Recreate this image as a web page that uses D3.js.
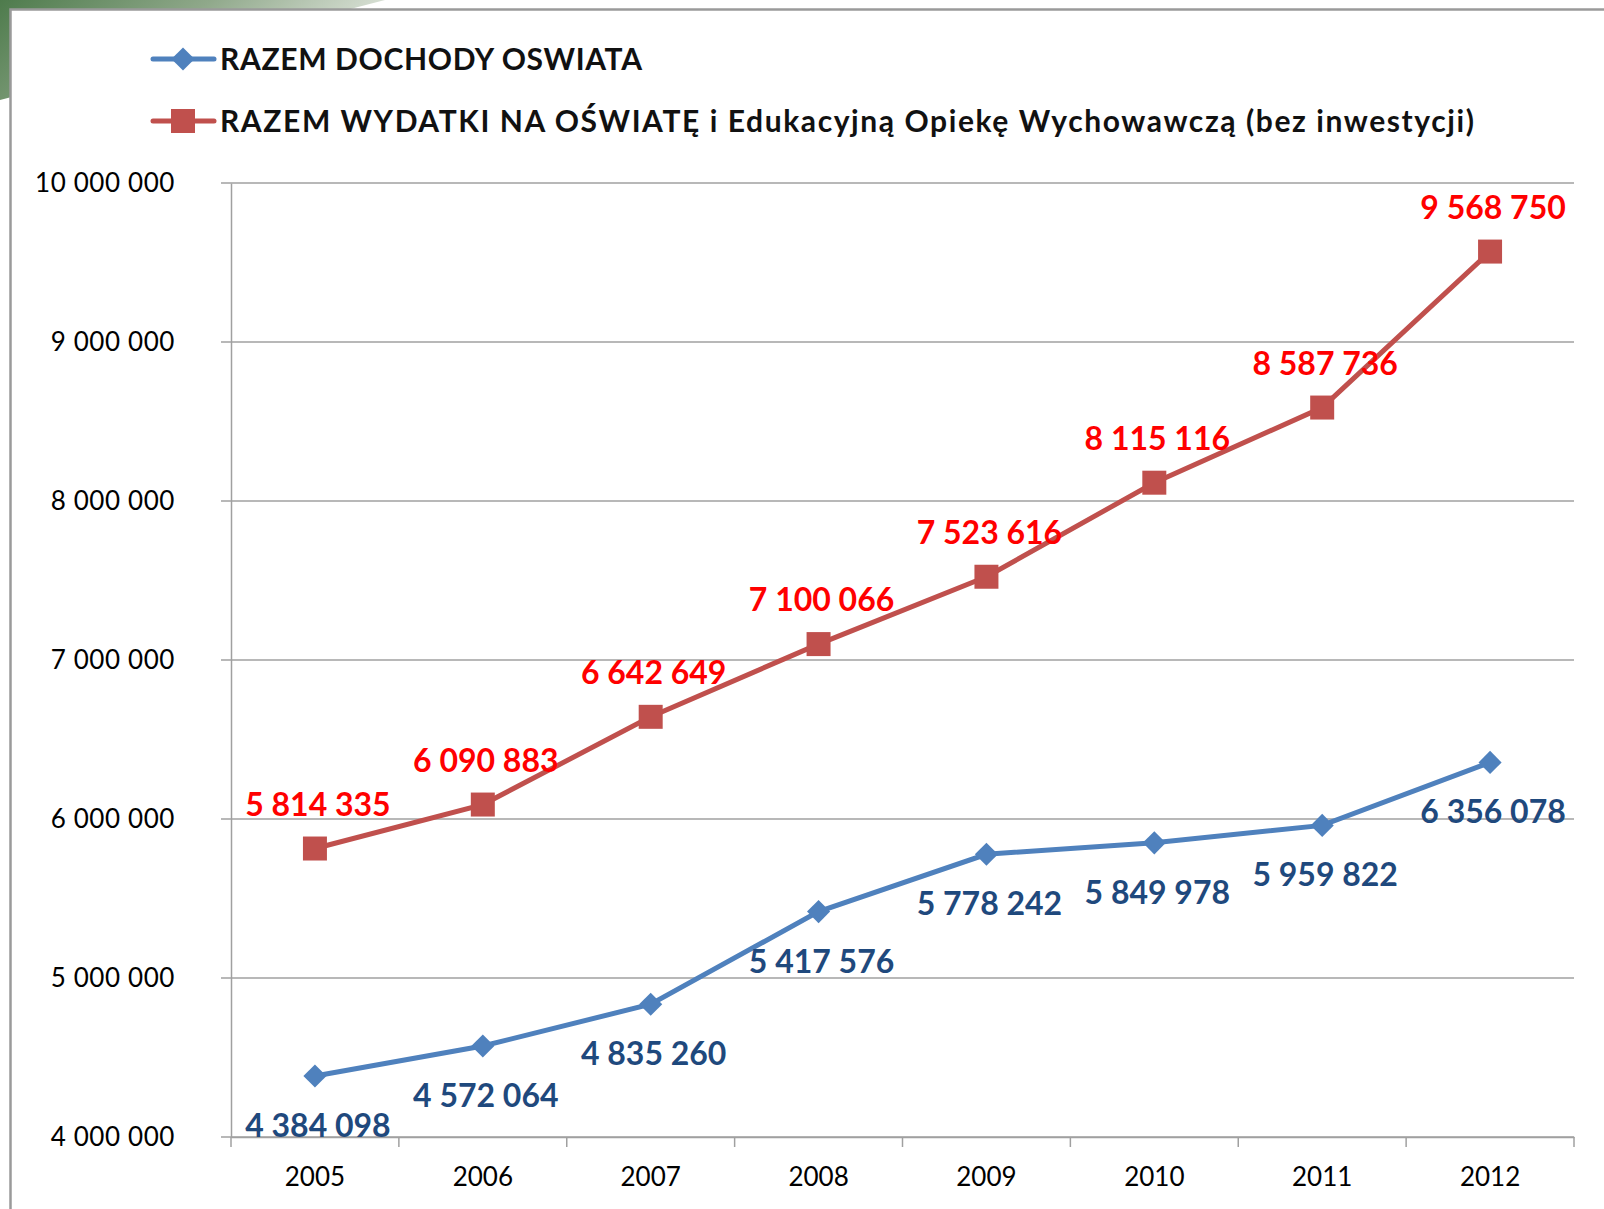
<!DOCTYPE html>
<html>
<head>
<meta charset="utf-8">
<script src="https://cdn.jsdelivr.net/npm/d3@7"></script>
<style>
  body { margin: 0; background: #fff; }
  svg text { font-family: Lato, 'Open Sans', sans-serif; }
</style>
</head>
<body>
<div class="svg-container"></div>
<script>
const years = ['2005', '2006', '2007', '2008', '2009', '2010', '2011', '2012']
const dochody = [4384098, 4572064, 4835260, 5417576, 5778242, 5849978, 5959822, 6356078]
const wydatki = [5814335, 6090883, 6642649, 7100066, 7523616, 8115116, 8587736, 9568750]
const yTicks = [4000000, 5000000, 6000000, 7000000, 8000000, 9000000, 10000000]
const seriesNames = [
  'RAZEM DOCHODY OSWIATA',
  'RAZEM WYDATKI NA OŚWIATĘ i Edukacyjną Opiekę Wychowawczą (bez inwestycji)'
]

const width = 1604
const height = 1209
const plotLeft = 231
const plotRight = 1574
const plotTop = 183
const plotBottom = 1137

const blue = '#4f81bd'
const red = '#c0504d'

const fmt = (v) => d3.format(',')(v).replace(/,/g, ' ')

const svg = d3
  .select('.svg-container')
  .append('svg')
  .attr('width', width)
  .attr('height', height)

// corner decoration + frame
const defs = svg.append('defs')
const grad = defs
  .append('linearGradient')
  .attr('id', 'corner')
  .attr('x1', '0')
  .attr('y1', '0')
  .attr('x2', '1')
  .attr('y2', '0.3')
grad.append('stop').attr('offset', '0').attr('stop-color', '#4e7b4c')
grad.append('stop').attr('offset', '0.5').attr('stop-color', '#8fa88a')
grad.append('stop').attr('offset', '1').attr('stop-color', '#e4e9e1')

svg
  .append('polygon')
  .attr('points', '0,0 385,0 0,100')
  .attr('fill', 'url(#corner)')

svg
  .append('rect')
  .attr('x', 10.5)
  .attr('y', 9.5)
  .attr('width', 1700)
  .attr('height', 1300)
  .attr('fill', '#fff')
  .attr('stroke', '#9a9a9a')
  .attr('stroke-width', 2.5)

const xScale = d3.scaleBand().domain(years).range([plotLeft, plotRight])
const yScale = d3.scaleLinear().domain([4000000, 10000000]).range([plotBottom, plotTop])

// gridlines
svg
  .append('g')
  .selectAll('line')
  .data(yTicks)
  .enter()
  .append('line')
  .attr('x1', plotLeft - 10)
  .attr('x2', plotRight)
  .attr('y1', (d) => yScale(d))
  .attr('y2', (d) => yScale(d))
  .attr('stroke', '#a0a0a0')
  .attr('stroke-width', 1.5)

const yAxis = d3
  .axisLeft(yScale)
  .tickValues(yTicks)
  .tickSize(0)
  .tickPadding(56)
  .tickFormat(fmt)

const gy = svg
  .append('g')
  .attr('transform', 'translate(' + plotLeft + ',0)')
  .call(yAxis)
gy.select('.domain').attr('stroke', '#a0a0a0').attr('stroke-width', 1.5)
gy.selectAll('text')
  .attr('font-size', 26)
  .attr('letter-spacing', 0.6)
  .attr('fill', '#000')
  .style('font-family', 'Lato, sans-serif')

const xAxis = d3.axisBottom(xScale).tickSize(0).tickPadding(31)
const gx = svg
  .append('g')
  .attr('transform', 'translate(0,' + plotBottom + ')')
  .call(xAxis)
gx.select('.domain').attr('stroke', '#a0a0a0').attr('stroke-width', 1.5)
gx.selectAll('text')
  .attr('font-size', 26)
  .attr('fill', '#000')
  .style('font-family', 'Lato, sans-serif')

// boundary ticks between categories
const bounds = years.map((y) => xScale(y)).concat([plotRight])
svg
  .append('g')
  .selectAll('line')
  .data(bounds)
  .enter()
  .append('line')
  .attr('x1', (d) => d)
  .attr('x2', (d) => d)
  .attr('y1', plotBottom)
  .attr('y2', plotBottom + 10)
  .attr('stroke', '#a0a0a0')
  .attr('stroke-width', 1.5)

const cx = (d, i) => xScale(years[i]) + xScale.bandwidth() / 2

const line = d3
  .line()
  .x((d, i) => cx(d, i))
  .y((d) => yScale(d))

svg.append('path').datum(wydatki).attr('d', line).attr('fill', 'none').attr('stroke', red).attr('stroke-width', 5)
svg.append('path').datum(dochody).attr('d', line).attr('fill', 'none').attr('stroke', blue).attr('stroke-width', 5)

const sq = d3.symbol().type(d3.symbolSquare).size(24 * 24)
const dia = d3.symbol().type(d3.symbolDiamond2).size(340)

svg
  .append('g')
  .selectAll('path')
  .data(wydatki)
  .enter()
  .append('path')
  .attr('d', sq)
  .attr('transform', (d, i) => 'translate(' + cx(d, i) + ',' + yScale(d) + ')')
  .attr('fill', red)

svg
  .append('g')
  .selectAll('path')
  .data(dochody)
  .enter()
  .append('path')
  .attr('d', dia)
  .attr('transform', (d, i) => 'translate(' + cx(d, i) + ',' + yScale(d) + ')')
  .attr('fill', blue)

// data labels
svg
  .append('g')
  .selectAll('text')
  .data(wydatki)
  .enter()
  .append('text')
  .attr('x', (d, i) => cx(d, i) + 3)
  .attr('y', (d) => yScale(d) - 33)
  .attr('text-anchor', 'middle')
  .attr('font-size', 32)
  .attr('font-weight', 'bold')
  .attr('fill', '#ff0000')
  .text(fmt)

svg
  .append('g')
  .selectAll('text')
  .data(dochody)
  .enter()
  .append('text')
  .attr('x', (d, i) => cx(d, i) + 3)
  .attr('y', (d) => yScale(d) + 61)
  .attr('text-anchor', 'middle')
  .attr('font-size', 32)
  .attr('font-weight', 'bold')
  .attr('fill', '#1f497d')
  .text(fmt)

// legend
const legend = svg.append('g')
const legendItems = [
  { name: seriesNames[0], color: blue, sym: dia, y: 59, w: 422 },
  { name: seriesNames[1], color: red, sym: sq, y: 121, w: 1254 }
]
legendItems.forEach((l) => {
  legend
    .append('line')
    .attr('x1', 153)
    .attr('x2', 214)
    .attr('y1', l.y)
    .attr('y2', l.y)
    .attr('stroke', l.color)
    .attr('stroke-width', 5)
    .attr('stroke-linecap', 'round')
  legend
    .append('path')
    .attr('d', l.sym)
    .attr('transform', 'translate(183,' + l.y + ')')
    .attr('fill', l.color)
  legend
    .append('text')
    .attr('x', 220)
    .attr('y', l.y + 11)
    .attr('font-size', 30)
    .attr('font-weight', 'bold')
    .attr('fill', '#111')
    .attr('textLength', l.w)
    .attr('lengthAdjust', 'spacing')
    .text(l.name)
})
</script>
</body>
</html>
